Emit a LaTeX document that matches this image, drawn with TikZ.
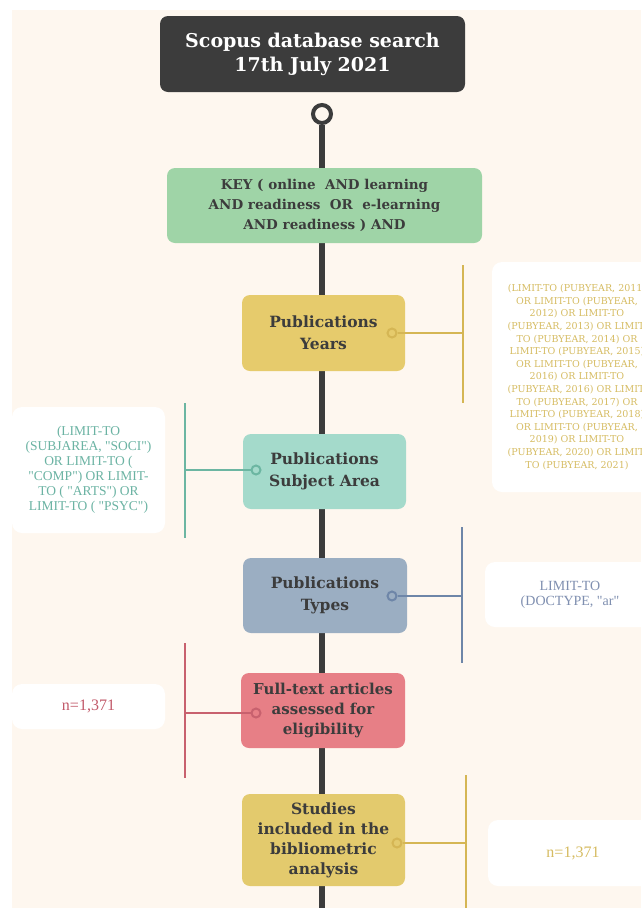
\documentclass[tikz,border=0pt]{standalone}
\usepackage{fontspec}
\setmainfont{DejaVu Serif}
\newfontfamily\sidef{Liberation Serif}
\definecolor{bgc}{HTML}{FEF7EF}
\definecolor{darkc}{HTML}{3C3C3C}
\definecolor{greenc}{HTML}{9FD4A7}
\definecolor{yelbox}{HTML}{E6CB6C}
\definecolor{yelline}{HTML}{D5B654}
\definecolor{yeltext}{HTML}{D6BC62}
\definecolor{tealbox}{HTML}{A4DACB}
\definecolor{tealline}{HTML}{6CB6A2}
\definecolor{tealtext}{HTML}{6BB3A3}
\definecolor{bluebox}{HTML}{9BAEC2}
\definecolor{blueline}{HTML}{6E86A8}
\definecolor{bluetext}{HTML}{7F8FB0}
\definecolor{redbox}{HTML}{E77F86}
\definecolor{redline}{HTML}{C8616E}
\definecolor{redtext}{HTML}{C25A6A}
\definecolor{studbox}{HTML}{E3CA6D}
\tikzset{
  stepbox/.style={rounded corners=8pt, inner sep=2pt, align=center, text=darkc,
    font=\bfseries\fontsize{15.5}{22}\selectfont},
  sidebox/.style={rounded corners=10pt, fill=white, inner sep=2pt, align=center},
  sideline/.style={line width=2.5pt},
  knob/.style={circle, draw, line width=2pt, minimum size=9pt, inner sep=0pt},
}
\begin{document}
\begin{tikzpicture}[x=1pt,y=-1pt]
\useasboundingbox (0,0) rectangle (641,908);
\fill[white] (0,0) rectangle (641,908);
\fill[bgc] (12,10) rectangle (641,908);
\begin{scope}
\clip (0,0) rectangle (641,908);
% side white boxes
\node[sidebox, minimum width=170pt, minimum height=230pt, font=\fontsize{9.5}{12.6}\selectfont, text=yeltext] (yrs) at (577,377)
 {(LIMIT-TO (PUBYEAR, 2011)\\OR LIMIT-TO (PUBYEAR,\\2012) OR LIMIT-TO\\(PUBYEAR, 2013) OR LIMIT-\\TO (PUBYEAR, 2014) OR\\LIMIT-TO (PUBYEAR, 2015)\\OR LIMIT-TO (PUBYEAR,\\2016) OR LIMIT-TO\\(PUBYEAR, 2016) OR LIMIT-\\TO (PUBYEAR, 2017) OR\\LIMIT-TO (PUBYEAR, 2018)\\OR LIMIT-TO (PUBYEAR,\\2019) OR LIMIT-TO\\(PUBYEAR, 2020) OR LIMIT-\\TO (PUBYEAR, 2021)};
\node[sidebox, minimum width=153pt, minimum height=126pt, font=\sidef\fontsize{13.5}{15}\selectfont, text=tealtext] (subj) at (88.5,470)
 {(LIMIT-TO\\(SUBJAREA, "SOCI")\\OR LIMIT-TO (\\"COMP") OR LIMIT-\\TO ( "ARTS") OR\\LIMIT-TO ( "PSYC")};
\node[sidebox, minimum width=170pt, minimum height=65pt, font=\sidef\fontsize{14}{15}\selectfont, text=bluetext] (typ) at (570,594.5)
 {LIMIT-TO\\(DOCTYPE, "ar"};
\node[sidebox, minimum width=153pt, minimum height=45pt, font=\sidef\fontsize{16}{18}\selectfont, text=redtext] (nl) at (88.5,706.5) {n=1,371};
\node[sidebox, minimum width=170pt, minimum height=66pt, font=\sidef\fontsize{16}{18}\selectfont, text=yeltext] (nr) at (573,853) {n=1,371};
\end{scope}
% trunk
\coordinate (trunkend) at (322,908);
\node[circle, draw=darkc, line width=4pt, fill=bgc, minimum size=18pt, inner sep=0pt] (top) at (322,114) {};
\draw[darkc, line width=6pt] (top.south) -- (trunkend);
% step boxes
\node[stepbox, fill=darkc, text=white, minimum width=305pt, minimum height=76pt,
  font=\bfseries\fontsize{19}{24}\selectfont] (title) at (312.5,54) {Scopus database search\\17th July 2021};
\node[stepbox, fill=greenc, minimum width=315pt, minimum height=75pt,
  font=\bfseries\fontsize{13.5}{20}\selectfont] (key) at (324.5,205.5)
  {KEY ( online\ \ AND learning\\AND readiness\ \ OR\ \ e-learning\\AND readiness ) AND};
\node[stepbox, fill=yelbox, minimum width=163pt, minimum height=76pt] (years) at (323.5,333) {Publications\\Years};
\node[stepbox, fill=tealbox, minimum width=163pt, minimum height=75pt] (area) at (324.5,471.5) {Publications\\Subject Area};
\node[stepbox, fill=bluebox, minimum width=164pt, minimum height=75pt] (types) at (325,595.5) {Publications\\Types};
\node[stepbox, fill=redbox, minimum width=164pt, minimum height=75pt, font=\bfseries\fontsize{15}{20}\selectfont] (full) at (323,710.5) {Full-text articles\\assessed for\\eligibility};
\node[stepbox, fill=studbox, minimum width=163pt, minimum height=92pt, font=\bfseries\fontsize{15.5}{20}\selectfont] (stud) at (323.5,840) {Studies\\included in the\\bibliometric\\analysis};
% knobs and side connectors
\node[knob, draw=yelline, fill=yelbox] (k1) at (392,333) {};
\coordinate (b1) at (463,333);
\draw[sideline, yelline] (k1) -- (b1);
\draw[sideline, yelline] (463,265) -- (463,403);

\node[knob, draw=tealline, fill=tealbox] (k2) at (256,470) {};
\coordinate (b2) at (185,470);
\draw[sideline, tealline] (k2) -- (b2);
\draw[sideline, tealline] (185,403) -- (185,538);

\node[knob, draw=blueline, fill=bluebox] (k3) at (392,596) {};
\coordinate (b3) at (462,596);
\draw[sideline, blueline] (k3) -- (b3);
\draw[sideline, blueline] (462,527) -- (462,663);

\node[knob, draw=redline, fill=redbox] (k4) at (256,713) {};
\coordinate (b4) at (185,713);
\draw[sideline, redline] (k4) -- (b4);
\draw[sideline, redline] (185,643) -- (185,778);

\node[knob, draw=yelline, fill=studbox] (k5) at (397,843) {};
\coordinate (b5) at (466,843);
\draw[sideline, yelline] (k5) -- (b5);
\draw[sideline, yelline] (466,775) -- (466,908);
\end{tikzpicture}
\end{document}
